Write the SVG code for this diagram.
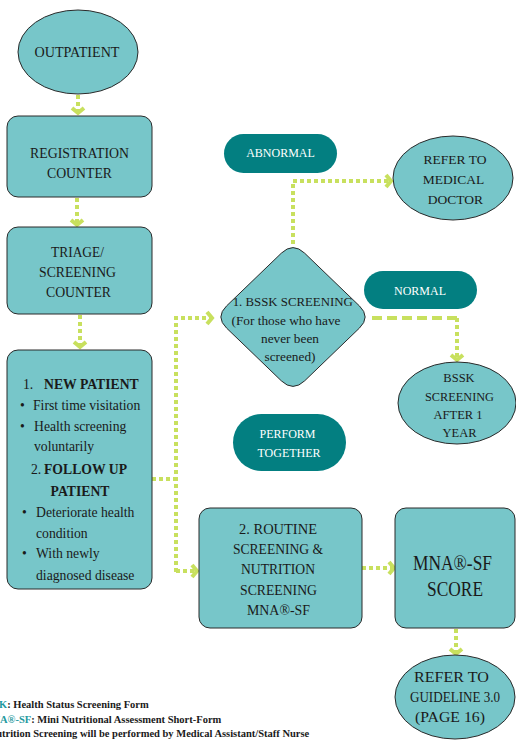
<svg xmlns="http://www.w3.org/2000/svg" width="516" height="740" viewBox="0 0 516 740">
<defs>
<style>
.node{fill:#77c6c9;stroke:#2a2a2a;stroke-width:1}
.pill{fill:#037f81}
.t{font-family:"Liberation Serif","Times New Roman",serif;fill:#1a1a1a;text-anchor:middle}
.tl{font-family:"Liberation Serif","Times New Roman",serif;fill:#1a1a1a}
.w{font-family:"Liberation Serif","Times New Roman",serif;fill:#ffffff;text-anchor:middle;font-size:12px}
.dot{fill:none;stroke:#c8e05e;stroke-width:4;stroke-dasharray:4 3}
.dash{fill:none;stroke:#c8e05e;stroke-width:4;stroke-dasharray:10 5}
.leg{font-family:"Liberation Serif","Times New Roman",serif;font-weight:bold;font-size:10.5px;fill:#1a1a1a}
.legk{fill:#1f9aa0}
</style>
<marker id="chev" markerUnits="userSpaceOnUse" viewBox="-10 -10 20 20" markerWidth="20" markerHeight="20" refX="0" refY="0" orient="auto">
<path d="M-6,-6 L-1,0 L-6,6" fill="none" stroke="#c8e05e" stroke-width="4"/>
</marker>
</defs>

<g id="connectors">
<path class="dot" d="M78,95 V114" marker-end="url(#chev)"/>
<path class="dot" d="M77,198 V226" marker-end="url(#chev)"/>
<path class="dot" d="M80,315 V348" marker-end="url(#chev)"/>
<path class="dot" d="M152,479 H176"/>
<path class="dot" d="M176,572 V318 H213" marker-end="url(#chev)"/>
<path class="dot" d="M176,571 H198" marker-end="url(#chev)"/>
<path class="dot" d="M293,244 V181 H392" marker-end="url(#chev)"/>
<path class="dash" d="M372,318 H457"/>
<path class="dot" d="M457,318 V361" marker-end="url(#chev)"/>
<path class="dot" d="M362,568 H395" marker-end="url(#chev)"/>
<path class="dot" d="M456,629 V655" marker-end="url(#chev)"/>
</g>

<g id="outpatient">
<ellipse class="node" cx="78" cy="52" rx="60" ry="42"/>
<text class="t" x="77" y="56.5" font-size="13.7" textLength="85" lengthAdjust="spacingAndGlyphs">OUTPATIENT</text>
</g>

<g id="registration">
<rect class="node" x="7" y="116" width="145" height="81" rx="11"/>
<text class="t" x="79.5" y="157.5" font-size="13.7" textLength="99" lengthAdjust="spacingAndGlyphs">REGISTRATION</text>
<text class="t" x="79.5" y="177.5" font-size="13.7" textLength="65" lengthAdjust="spacingAndGlyphs">COUNTER</text>
</g>

<g id="triage">
<rect class="node" x="7" y="227" width="145" height="87" rx="11"/>
<text class="t" x="77.5" y="256.5" font-size="13.7" textLength="53" lengthAdjust="spacingAndGlyphs">TRIAGE/</text>
<text class="t" x="77.5" y="276.5" font-size="13.7" textLength="77" lengthAdjust="spacingAndGlyphs">SCREENING</text>
<text class="t" x="78.5" y="296.5" font-size="13.7" textLength="65" lengthAdjust="spacingAndGlyphs">COUNTER</text>
</g>

<g id="patient-types">
<rect class="node" x="7" y="350" width="145" height="239" rx="11"/>
<text class="tl" x="23" y="388.5" font-size="13.7">1.</text>
<text class="tl" x="44" y="388.5" font-size="13.7" font-weight="bold">NEW PATIENT</text>
<text class="tl" x="20" y="409.5" font-size="13.7">•</text>
<text class="tl" x="33" y="409.5" font-size="13.7">First time visitation</text>
<text class="tl" x="20" y="430.5" font-size="13.7">•</text>
<text class="tl" x="34" y="430.5" font-size="13.7">Health screening</text>
<text class="tl" x="34" y="450.5" font-size="13.7">voluntarily</text>
<text class="tl" x="31" y="473.5" font-size="13.7">2.</text>
<text class="tl" x="44" y="473.5" font-size="13.7" font-weight="bold">FOLLOW UP</text>
<text class="t" x="80" y="495.5" font-size="13.7" font-weight="bold">PATIENT</text>
<text class="tl" x="22" y="516.5" font-size="13.7">•</text>
<text class="tl" x="36" y="516.5" font-size="13.7">Deteriorate health</text>
<text class="tl" x="36" y="537.5" font-size="13.7">condition</text>
<text class="tl" x="22" y="557.5" font-size="13.7">•</text>
<text class="tl" x="36" y="557.5" font-size="13.7">With newly</text>
<text class="tl" x="36" y="579.5" font-size="13.7">diagnosed disease</text>
</g>

<g id="bssk-screening">
<path class="node" d="M304.7,253.2 L359.3,305.8 Q371,317 359.3,328.2 L304.7,380.8 Q293,392 281.3,380.8 L226.7,328.2 Q215,317 226.7,305.8 L281.3,253.2 Q293,242 304.7,253.2 Z"/>
<text class="t" x="292.7" y="305.5" font-size="13.3" textLength="120" lengthAdjust="spacingAndGlyphs">1.  BSSK SCREENING</text>
<text class="t" x="286" y="324.5" font-size="13.3">(For those who have</text>
<text class="t" x="290" y="342.5" font-size="13.3">never been</text>
<text class="t" x="290" y="361" font-size="13.3">screened)</text>
</g>

<g id="abnormal">
<rect class="pill" x="224" y="134" width="113" height="39" rx="19.5"/>
<text class="w" x="280.5" y="157">ABNORMAL</text>
</g>

<g id="refer-doctor">
<ellipse class="node" cx="453" cy="178" rx="60" ry="42"/>
<text class="t" x="455" y="163.5" font-size="13.5">REFER TO</text>
<text class="t" x="453.5" y="183.5" font-size="13.5">MEDICAL</text>
<text class="t" x="455.5" y="203.5" font-size="13.5">DOCTOR</text>
</g>

<g id="normal">
<rect class="pill" x="364" y="271" width="113" height="38" rx="19"/>
<text class="w" x="420" y="295">NORMAL</text>
</g>

<g id="bssk-after">
<ellipse class="node" cx="457" cy="403" rx="59" ry="41"/>
<text class="t" x="459" y="382" font-size="12.5">BSSK</text>
<text class="t" x="459.5" y="401" font-size="12.5" textLength="69" lengthAdjust="spacingAndGlyphs">SCREENING</text>
<text class="t" x="458" y="419" font-size="12.5">AFTER 1</text>
<text class="t" x="459.5" y="437" font-size="12.5">YEAR</text>
</g>

<g id="perform-together">
<rect class="pill" x="233" y="414" width="113" height="57" rx="28.5"/>
<text class="w" x="287.5" y="438">PERFORM</text>
<text class="w" x="289" y="457">TOGETHER</text>
</g>

<g id="routine">
<rect class="node" x="199" y="508" width="163" height="120" rx="11"/>
<text class="t" x="278" y="533.5" font-size="13.7" textLength="78" lengthAdjust="spacingAndGlyphs">2.  ROUTINE</text>
<text class="t" x="278" y="553.5" font-size="13.7" textLength="90" lengthAdjust="spacingAndGlyphs">SCREENING &amp;</text>
<text class="t" x="278" y="573.5" font-size="13.7" textLength="74" lengthAdjust="spacingAndGlyphs">NUTRITION</text>
<text class="t" x="278.5" y="594.5" font-size="13.7" textLength="77" lengthAdjust="spacingAndGlyphs">SCREENING</text>
<text class="t" x="278.5" y="614.5" font-size="13.7" textLength="63" lengthAdjust="spacingAndGlyphs">MNA®-SF</text>
</g>

<g id="mna-score">
<rect class="node" x="395" y="508" width="120" height="120" rx="11"/>
<text class="t" x="452.5" y="569.5" font-size="20" textLength="79" lengthAdjust="spacingAndGlyphs">MNA®-SF</text>
<text class="t" x="455" y="595.5" font-size="20" textLength="56" lengthAdjust="spacingAndGlyphs">SCORE</text>
</g>

<g id="refer-guideline">
<ellipse class="node" cx="455" cy="697" rx="60" ry="42"/>
<text class="t" x="451.5" y="682" font-size="15" textLength="75" lengthAdjust="spacingAndGlyphs">REFER TO</text>
<text class="t" x="455" y="702" font-size="15" textLength="90" lengthAdjust="spacingAndGlyphs">GUIDELINE 3.0</text>
<text class="t" x="450" y="722" font-size="15" textLength="70" lengthAdjust="spacingAndGlyphs">(PAGE 16)</text>
</g>

<g id="legend">
<text class="leg" x="-19.7" y="707.5"><tspan class="legk">BSSK</tspan>: Health Status Screening Form</text>
<text class="leg" x="-17.5" y="722.5"><tspan class="legk">MNA®-SF</tspan>: Mini Nutritional Assessment Short-Form</text>
<text class="leg" x="-11.4" y="737">Nutrition Screening will be performed by Medical Assistant/Staff Nurse</text>
</g>
</svg>
